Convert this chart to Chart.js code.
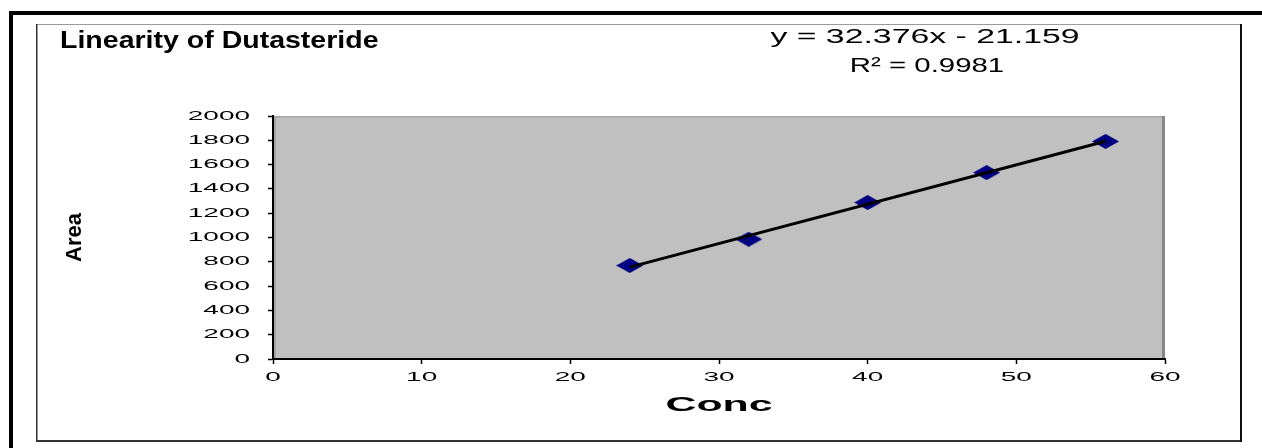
<!DOCTYPE html>
<html>
<head>
<meta charset="utf-8">
<script src="https://cdn.jsdelivr.net/npm/chart.js@4.4.1/dist/chart.umd.min.js"></script>
<style>
  html, body { margin: 0; padding: 0; background: #fff; }
  canvas { display: block; }
</style>
</head>
<body>
<canvas id="c" width="1262" height="448"></canvas>
<script>
// ---- data ----
const chartTitle = 'Linearity of Dutasteride';
const xAxisTitle = 'Conc';
const yAxisTitle = 'Area';
const conc = [24, 32, 40, 48, 56];
const area = [770, 986, 1288, 1534, 1791];
const trendSlope = 32.376;
const trendIntercept = -21.159;
const equationLines = ['y = 32.376x - 21.159', 'R\u00B2 = 0.9981'];
const xTicks = [0, 10, 20, 30, 40, 50, 60];
const yTicks = [0, 200, 400, 600, 800, 1000, 1200, 1400, 1600, 1800, 2000];

// ---- styling helpers ----
const FAMILY = "'Liberation Sans', Arial, sans-serif";
// horizontal stretch of the glyphs (the reference text is drawn wide), keyed by font size
const textStretch = { 13: 2.15, 21: 2.04, 22: 1, 23: 1.24 };

const canvas = document.getElementById('c');
const ctx = canvas.getContext('2d');
const protoFillText = CanvasRenderingContext2D.prototype.fillText;
ctx.fillText = function (text, x, y, maxWidth) {
  let sx = this.__sx;
  if (sx === undefined) {
    const m = /(\d+(?:\.\d+)?)px/.exec(this.font);
    sx = m ? (textStretch[Math.round(+m[1])] || 1) : 1;
  }
  if (sx === 1) {
    return maxWidth === undefined ? protoFillText.call(this, text, x, y)
                                  : protoFillText.call(this, text, x, y, maxWidth);
  }
  this.save();
  this.translate(x, y);
  this.scale(sx, 1);
  protoFillText.call(this, text, 0, 0);
  this.restore();
};

// diamond marker (wide, like the reference)
function makeDiamond(w, h, color) {
  const c = document.createElement('canvas');
  c.width = w; c.height = h;
  const g = c.getContext('2d');
  g.fillStyle = color;
  g.beginPath();
  g.moveTo(0, h / 2); g.lineTo(w / 2, 0); g.lineTo(w, h / 2); g.lineTo(w / 2, h);
  g.closePath();
  g.fill();
  return c;
}
const diamond = makeDiamond(27, 15, '#000080');

const points = conc.map((x, i) => ({ x, y: area[i] }));
const xMin = Math.min(...conc), xMax = Math.max(...conc);
const trend = [xMin, xMax].map(x => ({ x, y: trendSlope * x + trendIntercept }));

const framePlugin = {
  id: 'frames',
  beforeDraw(chart) {
    const c = chart.ctx;
    const a = chart.chartArea;
    c.save();
    c.fillStyle = '#fff';
    c.fillRect(0, 0, chart.width, chart.height);
    // outer thick frame (top + left)
    c.fillStyle = '#000';
    c.fillRect(9, 11, chart.width - 9, 4);
    c.fillRect(9, 11, 4, chart.height - 11);
    // inner frame
    c.fillStyle = '#9a9a9a';
    c.fillRect(36, 24, 1206, 1);
    c.fillStyle = '#333';
    c.fillRect(36, 24, 1.5, 418);
    c.fillRect(36, 440, 1206, 2);
    c.fillStyle = '#111';
    c.fillRect(1240, 24, 2, 418);
    // plot area
    c.fillStyle = '#c0c0c0';
    c.fillRect(a.left, a.top, a.right - a.left, a.bottom - a.top);
    c.fillStyle = '#a4a4a4';
    c.fillRect(a.left, a.top, a.right - a.left, 1.5);
    c.fillRect(a.left, a.top, 3, a.bottom - a.top);
    c.fillStyle = '#878787';
    c.fillRect(a.right - 3, a.top, 3, a.bottom - a.top);
    c.restore();
  },
  afterDraw(chart) {
    const c = chart.ctx;
    c.save();
    c.font = '20px ' + FAMILY;
    c.fillStyle = '#000';
    c.textAlign = 'center';
    c.textBaseline = 'middle';
    c.__sx = 1.69;
    c.fillText(equationLines[0], 925, 37.5);
    c.__sx = 1.47;
    c.fillText(equationLines[1], 927, 66.5);
    c.__sx = undefined;
    c.restore();
  }
};

new Chart(ctx, {
  type: 'scatter',
  data: {
    datasets: [
      {
        type: 'line',
        label: 'Linear',
        data: trend,
        borderColor: '#000',
        borderWidth: 3,
        pointRadius: 0,
        fill: false,
        order: 0
      },
      {
        label: 'Area',
        data: points,
        pointStyle: diamond,
        pointRadius: 7,
        backgroundColor: '#000080',
        borderColor: '#000080',
        order: 1
      }
    ]
  },
  options: {
    responsive: false,
    animation: false,
    devicePixelRatio: 1,
    layout: { padding: { left: 60, right: 97, top: 0, bottom: 0 } },
    plugins: {
      legend: { display: false },
      tooltip: { enabled: false },
      title: {
        display: true,
        text: chartTitle,
        align: 'start',
        color: '#000',
        font: { family: FAMILY, size: 23, weight: 'bold', lineHeight: 1.2 },
        padding: { top: 28, bottom: 60.4 }
      }
    },
    scales: {
      x: {
        type: 'linear',
        min: xTicks[0],
        max: xTicks[xTicks.length - 1],
        afterBuildTicks: s => { s.ticks = xTicks.map(v => ({ value: v })); },
        afterFit: s => { s.height = 89; },
        grid: { drawOnChartArea: false, drawTicks: true, tickLength: 5, tickColor: '#000', tickWidth: 1.5 },
        border: { display: true, color: '#000', width: 2 },
        ticks: {
          color: '#000', padding: 5.5, autoSkip: false, maxRotation: 0,
          font: { family: FAMILY, size: 13 },
          callback: v => String(v)
        },
        title: {
          display: true, text: xAxisTitle, color: '#000',
          font: { family: FAMILY, size: 21, weight: 'bold', lineHeight: 1.2 },
          padding: { top: 0, bottom: 30 }
        }
      },
      y: {
        type: 'linear',
        min: yTicks[0],
        max: yTicks[yTicks.length - 1],
        afterBuildTicks: s => { s.ticks = yTicks.map(v => ({ value: v })); },
        afterFit: s => { s.width = 213; },
        grid: { drawOnChartArea: false, drawTicks: true, tickLength: 5, tickColor: '#000', tickWidth: 1.5 },
        border: { display: true, color: '#000', width: 2 },
        ticks: {
          color: '#000', padding: 18, autoSkip: false,
          font: { family: FAMILY, size: 13 },
          callback: v => String(v)
        },
        title: {
          display: true, text: yAxisTitle, color: '#000',
          font: { family: FAMILY, size: 22, weight: 'bold', lineHeight: 1.2 },
          padding: { top: 2, bottom: 0 }
        }
      }
    }
  },
  plugins: [framePlugin]
});
</script>
</body>
</html>
